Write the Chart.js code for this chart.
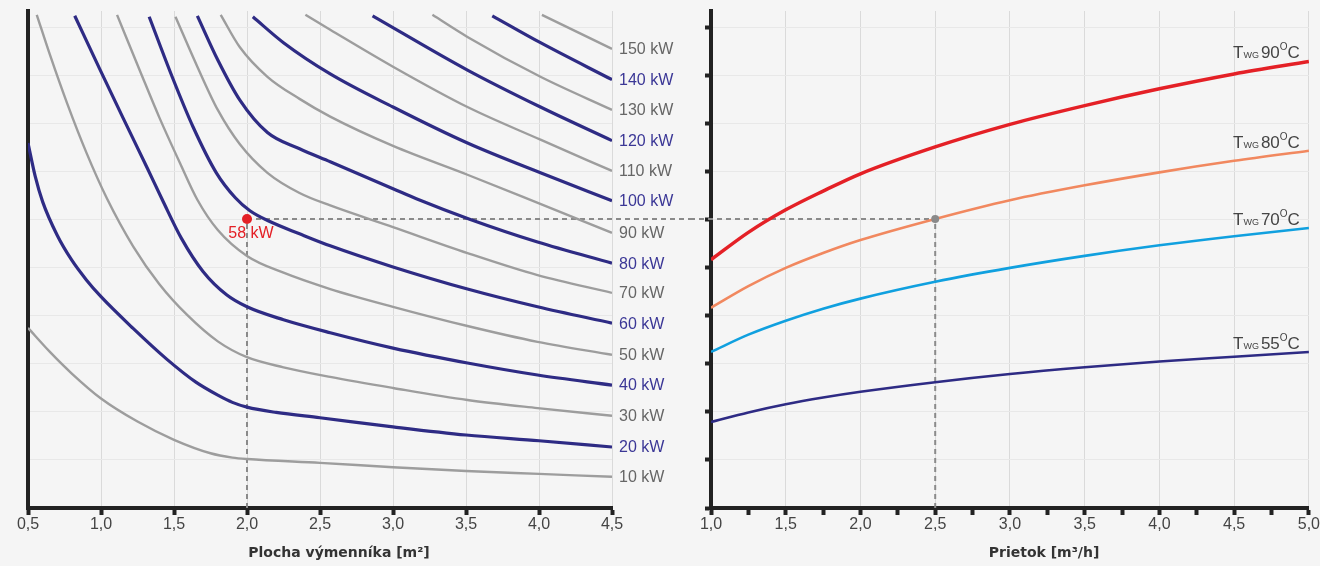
<!DOCTYPE html>
<html>
<head>
<meta charset="utf-8">
<script src="https://cdn.jsdelivr.net/npm/chart.js@4.4.1/dist/chart.umd.min.js"></script>
<style>
  html, body { margin: 0; padding: 0; background: #f5f5f5; }
  #wrap { position: relative; width: 1320px; height: 566px; }
  #areaBox { position: absolute; left: 0; top: 0; width: 690px; height: 566px; }
  #flowBox { position: absolute; left: 690px; top: 0; width: 630px; height: 566px; }
</style>
</head>
<body>
<div id="wrap">
  <div id="areaBox"><canvas id="areaChart"></canvas></div>
  <div id="flowBox"><canvas id="flowChart"></canvas></div>
</div>
<script>
// left chart: power curves over exchanger area [x, y]
const powerLabels = ['10 kW', '20 kW', '30 kW', '40 kW', '50 kW', '60 kW', '70 kW', '80 kW',
  '90 kW', '100 kW', '110 kW', '120 kW', '130 kW', '140 kW', '150 kW'];
const kw10 = [[0.5, 3.75], [0.65, 3.25], [0.8, 2.8], [1.0, 2.28], [1.25, 1.8], [1.5, 1.42], [1.75, 1.14], [1.9, 1.05], [2.0, 1.02], [2.5, 0.94], [3.0, 0.85], [3.5, 0.77], [4.0, 0.71], [4.5, 0.65]];
const kw20 = [[0.5, 7.6], [0.55, 6.9], [0.6, 6.38], [0.7, 5.68], [0.8, 5.16], [0.9, 4.75], [1.0, 4.4], [1.22, 3.74], [1.45, 3.1], [1.65, 2.62], [1.8, 2.35], [1.9, 2.2], [2.0, 2.1], [2.2, 1.99], [2.5, 1.88], [3.0, 1.69], [3.5, 1.52], [4.0, 1.40], [4.5, 1.27]];
const kw30 = [[0.56, 10.27], [0.65, 9.44], [0.77, 8.41], [0.9, 7.40], [1.04, 6.45], [1.22, 5.45], [1.4, 4.66], [1.59, 4.02], [1.8, 3.47], [2.0, 3.14], [2.25, 2.93], [2.57, 2.73], [3.0, 2.5], [3.51, 2.25], [3.99, 2.08], [4.5, 1.92]];
const kw40 = [[0.82, 10.25], [0.99, 9.15], [1.15, 8.13], [1.32, 7.06], [1.42, 6.42], [1.55, 5.62], [1.7, 4.92], [1.86, 4.44], [2.0, 4.19], [2.25, 3.92], [2.57, 3.65], [3.0, 3.33], [3.51, 3.02], [3.99, 2.77], [4.5, 2.56]];
const kw50 = [[1.11, 10.27], [1.27, 9.08], [1.4, 8.13], [1.54, 7.19], [1.66, 6.42], [1.8, 5.79], [2.0, 5.25], [2.25, 4.9], [2.57, 4.56], [3.0, 4.19], [3.51, 3.79], [3.99, 3.46], [4.5, 3.19]];
const kw60 = [[1.33, 10.23], [1.49, 8.96], [1.63, 7.94], [1.79, 6.98], [1.92, 6.46], [2.02, 6.19], [2.16, 5.96], [2.36, 5.71], [2.57, 5.46], [3.0, 5.02], [3.51, 4.56], [3.99, 4.19], [4.5, 3.85]];
const kw70 = [[1.51, 10.23], [1.66, 9.19], [1.8, 8.29], [1.95, 7.58], [2.14, 6.98], [2.36, 6.56], [2.57, 6.3], [3.0, 5.85], [3.51, 5.31], [3.99, 4.85], [4.5, 4.48]];
const kw80 = [[1.66, 10.25], [1.8, 9.33], [1.95, 8.5], [2.14, 7.82], [2.36, 7.48], [2.57, 7.21], [3.0, 6.65], [3.16, 6.44], [3.52, 6.02], [3.99, 5.54], [4.5, 5.1]];
const kw90 = [[1.82, 10.27], [1.95, 9.6], [2.14, 8.98], [2.36, 8.52], [2.57, 8.15], [3.0, 7.54], [3.51, 6.94], [3.89, 6.48], [4.5, 5.73]];
const kw100 = [[2.04, 10.23], [2.25, 9.69], [2.57, 9.04], [3.0, 8.35], [3.51, 7.6], [4.01, 6.98], [4.5, 6.4]];
const kw110 = [[2.4, 10.27], [2.57, 9.96], [3.0, 9.19], [3.51, 8.35], [4.01, 7.67], [4.5, 7.02]];
const kw120 = [[2.86, 10.25], [3.51, 9.12], [4.01, 8.35], [4.5, 7.65]];
const kw130 = [[3.27, 10.27], [3.51, 9.81], [4.01, 8.98], [4.5, 8.29]];
const kw140 = [[3.68, 10.25], [4.01, 9.69], [4.5, 8.92]];
const kw150 = [[4.02, 10.27], [4.5, 9.56]];
const areaCurves = [kw10, kw20, kw30, kw40, kw50, kw60, kw70, kw80, kw90, kw100, kw110, kw120, kw130, kw140, kw150];

// right chart: water temperature curves over flow [x, y]
const tempLabels = ['90', '80', '70', '55'];
const t90 = [[1.0, 5.17], [1.25, 5.74], [1.5, 6.21], [1.75, 6.6], [2.0, 6.96], [2.5, 7.52], [3.0, 7.99], [3.5, 8.38], [4.0, 8.73], [4.5, 9.04], [5.0, 9.3]];
const t80 = [[1.0, 4.17], [1.25, 4.62], [1.5, 5.0], [1.75, 5.31], [2.0, 5.58], [2.5, 6.02], [3.0, 6.41], [3.5, 6.72], [4.0, 6.99], [4.5, 7.23], [5.0, 7.44]];
const t70 = [[1.0, 3.25], [1.25, 3.61], [1.5, 3.9], [1.75, 4.15], [2.0, 4.36], [2.5, 4.71], [3.0, 5.0], [3.5, 5.25], [4.0, 5.47], [4.5, 5.66], [5.0, 5.83]];
const t55 = [[1.0, 1.79], [1.25, 1.99], [1.5, 2.16], [1.75, 2.3], [2.0, 2.42], [2.5, 2.62], [3.0, 2.79], [3.5, 2.93], [4.0, 3.05], [4.5, 3.15], [5.0, 3.25]];
const flowCurves = [t90, t80, t70, t55];
const flowColors = ['#e42026', '#f1885f', '#10a0df', '#2e2b84'];
const flowWidths = [3.5, 2.6, 2.6, 2.6];

// example reading
const pickArea = 2.0;
const pickFlow = 2.5;
const pickLevel = 6.02;
const pickLabel = '58 kW';

const NAVY = '#2e2b84';
const GREY = '#9d9d9d';
const TEXT = "'Liberation Sans', Arial, sans-serif";
Chart.defaults.font.family = TEXT;

const fmt = v => v.toFixed(1).replace('.', ',');

const areaSets = areaCurves.map((pts, i) => {
  const navy = i % 2 === 1;
  return {
    data: pts.map(([x, y]) => ({ x, y })),
    borderColor: navy ? NAVY : GREY,
    borderWidth: navy ? 3.2 : 2.4,
    endLabel: powerLabels[i],
    labelColor: navy ? '#3b3796' : '#666666'
  };
});

const flowSets = flowCurves.map((pts, i) => ({
  data: pts.map(([x, y]) => ({ x, y })),
  borderColor: flowColors[i],
  borderWidth: flowWidths[i],
  tempLabel: tempLabels[i]
}));

// text at the right end of each curve
const endLabels = {
  id: 'endLabels',
  afterDatasetsDraw(chart) {
    const ctx = chart.ctx;
    ctx.save();
    chart.data.datasets.forEach((ds, i) => {
      const pts = chart.getDatasetMeta(i).data;
      const last = pts[pts.length - 1];
      if (ds.endLabel) {
        ctx.font = '16px ' + TEXT;
        ctx.fillStyle = ds.labelColor;
        ctx.textAlign = 'left';
        ctx.textBaseline = 'middle';
        ctx.fillText(ds.endLabel, last.x + 7, last.y + 1);
      }
      if (ds.tempLabel) {
        const parts = [
          ['T', 17, 0], ['WG', 9, 0], [' ', 7, 0], [ds.tempLabel, 17, 0], ['O', 10, -8], ['C', 17, 0]
        ];
        ctx.fillStyle = '#444';
        ctx.textAlign = 'left';
        ctx.textBaseline = 'alphabetic';
        let w = 0;
        parts.forEach(p => { ctx.font = p[1] + 'px ' + TEXT; w += ctx.measureText(p[0]).width; });
        let x = last.x - 9 - w;
        const base = last.y - 3;
        parts.forEach(p => {
          ctx.font = p[1] + 'px ' + TEXT;
          ctx.fillText(p[0], x, base + p[2]);
          x += ctx.measureText(p[0]).width;
        });
      }
    });
    ctx.restore();
  }
};

// dashed reading lines and marker points
const pickLines = {
  id: 'pickLines',
  beforeDatasetsDraw(chart, args, opts) {
    const { ctx, scales: { x, y } } = chart;
    const px = x.getPixelForValue(opts.at);
    const py = y.getPixelForValue(pickLevel);
    ctx.save();
    ctx.strokeStyle = '#8a8a8a';
    ctx.lineWidth = 2;
    ctx.setLineDash([5, 4]);
    ctx.beginPath();
    ctx.moveTo(px, y.getPixelForValue(0));
    ctx.lineTo(px, py);
    if (opts.side === 'left') {
      ctx.moveTo(px, py);
      ctx.lineTo(chart.width, py);
    } else {
      ctx.moveTo(0, py);
      ctx.lineTo(px, py);
    }
    ctx.stroke();
    ctx.restore();
  },
  afterDatasetsDraw(chart, args, opts) {
    const { ctx, scales: { x, y } } = chart;
    const px = x.getPixelForValue(opts.at);
    const py = y.getPixelForValue(pickLevel);
    ctx.save();
    ctx.fillStyle = opts.dot;
    ctx.beginPath();
    ctx.arc(px, py, opts.radius, 0, Math.PI * 2);
    ctx.fill();
    if (opts.text) {
      ctx.font = '16px ' + TEXT;
      ctx.textAlign = 'center';
      ctx.textBaseline = 'middle';
      ctx.fillText(opts.text, px + 4, py + 15);
    }
    ctx.restore();
  }
};

// axis caption under the tick labels
const caption = {
  id: 'caption',
  afterDraw(chart, args, opts) {
    const ctx = chart.ctx;
    ctx.save();
    ctx.font = "bold 14px 'DejaVu Sans', Verdana, sans-serif";
    ctx.fillStyle = '#333';
    ctx.textAlign = 'center';
    ctx.textBaseline = 'middle';
    ctx.fillText(opts.text, opts.x, 553);
    ctx.restore();
  }
};

function buildOptions(cfg) {
  return {
    responsive: true,
    maintainAspectRatio: false,
    animation: false,
    events: [],
    layout: { padding: cfg.padding },
    elements: {
      point: { radius: 0, hoverRadius: 0 },
      line: { cubicInterpolationMode: 'monotone', fill: false }
    },
    plugins: {
      legend: { display: false },
      tooltip: { enabled: false },
      pickLines: cfg.pick,
      caption: cfg.caption
    },
    scales: {
      x: {
        type: 'linear',
        min: cfg.xMin,
        max: cfg.xMax,
        ticks: {
          stepSize: cfg.xStep,
          autoSkip: false,
          maxRotation: 0,
          padding: 0,
          color: '#444',
          font: { size: 16 },
          callback: v => (v * 2) % 1 === 0 ? fmt(v) : ''
        },
        grid: {
          color: c => (c.tick && (c.tick.value * 2) % 1 === 0) ? '#dadada' : 'rgba(0,0,0,0)',
          tickColor: '#222',
          tickWidth: 4,
          tickLength: 7
        },
        border: { color: '#222', width: 4 },
        afterFit: s => { s.height = 58; }
      },
      y: {
        min: 0,
        max: 10.35,
        ticks: { display: false, stepSize: 1, includeBounds: false },
        grid: {
          color: '#e8e8e8',
          drawTicks: cfg.yTicks,
          tickColor: '#222',
          tickWidth: 4,
          tickLength: 6
        },
        border: { color: '#222', width: 4 },
        afterFit: s => { s.width = cfg.yWidth; }
      }
    }
  };
}

new Chart(document.getElementById('areaChart'), {
  type: 'line',
  data: { datasets: areaSets },
  options: buildOptions({
    padding: { left: 28, right: 78, top: 11, bottom: 0 },
    xMin: 0.5, xMax: 4.5, xStep: 0.5,
    yTicks: false, yWidth: 0,
    pick: { at: pickArea, side: 'left', dot: '#e42026', radius: 5, text: pickLabel },
    caption: { text: 'Plocha výmenníka [m²]', x: 339 }
  }),
  plugins: [endLabels, pickLines, caption]
});

new Chart(document.getElementById('flowChart'), {
  type: 'line',
  data: { datasets: flowSets },
  options: buildOptions({
    padding: { left: 0, right: 10, top: 11, bottom: 0 },
    xMin: 1, xMax: 5, xStep: 0.25,
    yTicks: true, yWidth: 21,
    pick: { at: pickFlow, side: 'right', dot: '#8a8a8a', radius: 4, text: '' },
    caption: { text: 'Prietok [m³/h]', x: 354 }
  }),
  plugins: [endLabels, pickLines, caption]
});
</script>
</body>
</html>
